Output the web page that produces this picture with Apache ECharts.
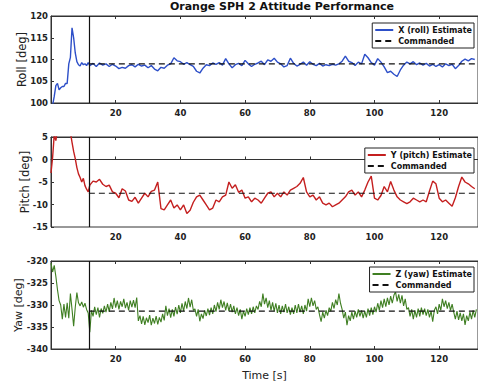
<!DOCTYPE html>
<html>
<head>
<meta charset="utf-8">
<script src="https://cdn.jsdelivr.net/npm/echarts@6/dist/echarts.min.js"></script>
<style>html,body{margin:0;padding:0;background:#fff}#c{width:478px;height:385px}</style>
</head>
<body>
<div id="c"></div>
<script>
// ---- data ----
const chartTitle = 'Orange SPH 2 Attitude Performance';
const xTicks = [20, 40, 60, 80, 100, 120];
const startTime = 11.7;   // commanded maneuver start (vertical line)
const endTime = 132;

// time samples for roll / pitch [s]
const timeCoarse = [0,0.5,1,1.5,2,2.5,3,3.5,4,4.5,5,5.5,6,6.5,7,7.5,8,8.5,9,9.5,10,10.5,11,11.5,
 12,13,14,15,16,17,18,19,20,21,22,23,24,25,26,27,28,29,30,31,32,33,34,35,36,37,38,39,40,
 41,42,43,44,45,46,47,48,49,50,51,52,53,54,55,56,57,58,59,60,61,62,63,64,65,66,67,68,69,70,
 71,72,73,74,75,76,77,78,79,80,81,82,83,84,85,86,87,88,89,90,91,92,93,94,95,96,97,98,99,100,
 101,102,103,104,105,106,107,108,109,110,111,112,113,114,115,116,117,118,119,120,121,122,123,124,125,126,127,128,129,130,131];

const rollDeg = [98,99.5,101.5,104,104.5,103,103.5,103.8,103.8,104.5,104.5,109,110.5,117.3,115,111.5,109.5,108.8,108.5,109.3,108.8,109,108.6,109.3,
 108.6,109.1,108.4,109.2,108.7,109.0,108.4,108.9,108.5,107.9,108.2,108.0,108.6,108.8,108.3,108.9,108.5,108.7,108.1,108.6,107.8,107.4,108.2,108.0,108.7,109.0,110.4,109.7,109.5,
 108.9,109.3,108.8,108.4,107.3,106.9,108.0,108.8,108.6,109.2,108.9,109.3,108.7,110.2,109.0,108.1,108.8,109.1,108.6,109.8,109.0,108.4,108.9,109.2,109.6,108.8,109.9,109.6,110.3,109.4,
 109.0,108.3,108.6,110.3,109.1,108.5,108.9,109.4,108.7,109.5,108.9,108.6,109.1,108.5,108.8,108.6,108.9,108.7,109.0,109.6,110.8,109.6,109.3,108.6,109.4,109.0,111.2,110.4,109.3,108.7,
 110.2,109.4,108.3,107.0,107.3,106.6,106.1,107.6,108.7,109.4,109.0,109.5,108.8,109.2,108.7,109.1,108.5,108.9,108.4,108.8,108.3,109.0,108.6,108.9,107.9,108.6,109.6,110.1,109.7,110.2,110.0];

const pitchDeg = [-3.0,0.5,5.5,4.2,6.5,6.0,7.0,7.5,8.0,8.0,8.0,7.0,6.0,3.8,1.8,0.2,-1.8,-3.2,-4.0,-5.0,-4.2,-5.8,-6.6,-7.2,
 -5.7,-4.8,-5.0,-4.4,-5.5,-6.0,-5.7,-7.2,-7.5,-8.5,-6.5,-7.0,-9.0,-9.3,-8.4,-9.7,-8.6,-7.5,-8.3,-7.1,-6.8,-5.0,-10.9,-11.2,-10.1,-9.0,-10.8,-10.1,-11.2,
 -10.1,-12.0,-11.3,-9.5,-8.3,-7.9,-9.0,-10.1,-11.2,-10.8,-9.0,-9.4,-8.3,-7.9,-5.0,-6.4,-5.6,-7.3,-6.8,-8.6,-8.3,-9.4,-8.6,-9.0,-9.7,-8.6,-7.5,-7.2,-8.3,-7.5,
 -8.3,-7.2,-7.9,-6.8,-6.4,-6.0,-5.3,-4.0,-7.2,-8.3,-7.9,-9.0,-8.3,-9.7,-10.1,-9.7,-10.5,-10.1,-9.7,-9.0,-8.3,-7.2,-6.8,-7.9,-7.2,-8.3,-6.8,-5.0,-3.7,-8.6,
 -9.0,-8.0,-6.0,-7.2,-4.9,-6.8,-8.3,-9.0,-9.4,-9.8,-9.4,-8.6,-9.0,-9.4,-9.0,-9.4,-7.0,-4.8,-5.4,-8.6,-9.4,-9.0,-9.7,-10.4,-8.5,-6.0,-3.9,-5.0,-5.4,-6.0,-6.5];

// time samples for yaw [s]
const timeFine = [0,0.5,1,1.5,2,2.5,3,3.5,4,4.5,5,5.5,6,6.5,7,7.5,8,8.5,9,9.5,10,10.5,11,11.5,12,
 12.5,13,13.5,14,14.5,15,15.5,16,16.5,17,17.5,18,18.5,19,19.5,20,20.5,21,21.5,22,22.5,23,23.5,24,24.5,25,25.5,26,26.5,27,
 27.5,28,28.5,29,29.5,30,30.5,31,31.5,32,32.5,33,33.5,34,34.5,35,
 35.5,36,36.5,37,37.5,38,38.5,39,39.5,40,
 40.5,41,41.5,42,42.5,43,43.5,44,
 44.5,45,45.5,46,46.5,47,47.5,48,48.5,49,49.5,50,
 50.5,51,51.5,52,52.5,53,53.5,54,54.5,55,55.5,56,56.5,57,
 57.5,58,58.5,59,59.5,60,60.5,61,61.5,62,62.5,63,63.5,
 64,64.5,65,65.5,66,66.5,67,67.5,68,
 68.5,69,69.5,70,70.5,71,71.5,72,72.5,73,73.5,74,74.5,75,
 75.5,76,76.5,77,77.5,78,78.5,79,
 79.5,80,80.5,81,81.5,82,
 82.5,83,83.5,84,84.5,85,85.5,86,
 86.5,87,87.5,88,88.5,89,89.5,90,
 90.5,91,91.5,92,92.5,93,93.5,94,94.5,95,95.5,96,96.5,97,97.5,98,98.5,99,99.5,100,
 100.5,101,101.5,102,102.5,103,103.5,104,104.5,105,105.5,106,106.5,107,107.5,108,108.5,109,109.5,110,
 110.5,111,111.5,112,112.5,113,113.5,114,114.5,115,115.5,116,116.5,
 117,117.5,118,118.5,
 119,119.5,120,120.5,121,121.5,122,122.5,123,123.5,124,
 124.5,125,125.5,126,126.5,127,127.5,128,128.5,129,129.5,130,130.5,131,131.5];

const yawDeg = [-320.5,-322.5,-321.0,-323.5,-326.5,-329.0,-330.0,-333.2,-329.8,-332.8,-329.5,-333.0,-327.4,-331.0,-334.8,-330.5,-327.2,-329.5,-330.2,-329.3,-330.5,-329.6,-331.0,-331.8,-336.2,
 -331.2,-332.6,-330.4,-332.2,-330.6,-332.8,-330.8,-331.9,-330.2,-331.6,-329.8,-331.5,-329.4,-330.9,-328.4,-330.6,-329.0,-331.0,-329.2,-330.4,-328.6,-330.7,-329.4,-331.2,-329.0,-330.5,-328.9,-330.6,-328.3,-333.6,
 -332.4,-334.3,-332.6,-334.5,-332.9,-334.0,-332.3,-334.6,-333.0,-334.2,-332.5,-334.4,-332.8,-333.9,-332.0,-333.5,
 -330.2,-332.4,-330.8,-332.9,-331.0,-332.6,-330.5,-332.1,-330.0,-331.8,
 -329.6,-331.4,-329.2,-330.8,-328.4,-330.5,-328.8,-331.2,
 -330.9,-332.6,-331.0,-333.7,-332.0,-333.1,-331.2,-332.5,-330.8,-332.3,-330.6,-332.0,
 -330.0,-331.5,-329.4,-331.0,-328.8,-330.6,-329.2,-331.2,-329.5,-331.4,-329.8,-331.6,-330.2,-332.0,
 -330.6,-332.4,-331.0,-333.2,-331.4,-332.6,-330.8,-332.2,-330.6,-332.0,-330.4,-331.8,-330.2,
 -331.0,-329.2,-330.4,-327.4,-329.8,-328.4,-330.6,-329.0,-331.2,
 -329.4,-331.4,-329.6,-331.8,-330.0,-332.0,-330.2,-331.6,-329.8,-331.8,-330.4,-332.2,-330.6,-332.0,
 -330.0,-331.8,-329.8,-331.6,-330.2,-332.0,-330.0,-331.4,
 -328.6,-330.4,-328.4,-330.2,-329.0,-331.0,
 -330.4,-332.2,-333.8,-331.6,-333.0,-331.2,-332.4,-330.6,
 -331.4,-329.4,-330.8,-328.8,-330.0,-327.4,-329.6,-331.0,
 -333.0,-331.6,-334.6,-332.4,-333.6,-331.6,-333.2,-331.4,-332.8,-331.0,-332.6,-331.2,-333.0,-331.4,-332.8,-330.8,-332.4,-330.6,-332.2,-330.4,
 -331.6,-329.6,-331.2,-329.0,-330.6,-328.6,-330.4,-328.4,-330.0,-328.0,-329.6,-327.8,-327.0,-329.2,-327.6,-329.6,-327.8,-330.2,-328.6,-331.0,
 -330.6,-332.6,-331.0,-333.2,-331.2,-332.8,-330.8,-332.6,-330.6,-332.2,-330.8,-332.4,-331.0,
 -332.8,-331.4,-333.8,-331.2,
 -330.4,-332.0,-329.8,-331.2,-328.6,-330.4,-329.0,-330.8,-329.4,-331.2,-329.8,
 -331.6,-333.2,-331.4,-333.4,-331.8,-333.6,-332.0,-334.5,-332.4,-333.6,-331.6,-333.2,-331.2,-332.8,-331.0];

const rollCmd = 109.0;
const pitchCmd = -7.5;
const yawCmd = -331.4;

const panels = [
  {est: 'X (roll) Estimate', yName: 'Roll [deg]', yMin: 100, yMax: 120, time: timeCoarse, vals: rollDeg, cmd: rollCmd, color: '#2d4fc8', width: 1.4},
  {est: 'Y (pitch) Estimate', yName: 'Pitch [deg]', yMin: -15, yMax: 5, time: timeCoarse, vals: pitchDeg, cmd: pitchCmd, color: '#c41f1f', width: 1.4},
  {est: 'Z (yaw) Estimate', yName: 'Yaw [deg]', yMin: -340, yMax: -320, time: timeFine, vals: yawDeg, cmd: yawCmd, color: '#3f7f22', width: 1.1}
];

// ---- layout / style ----
const FONT = 'DejaVu Sans';
const gridTops = [16, 137, 261];
const gridHeights = [87, 90, 88];
const nameGaps = [23, 20, 27];
const nameSizes = [11.5, 11.5, 11];
const legendTops = [23, 148, 267];

const grid = [], xAxis = [], yAxis = [], series = [], legend = [];
panels.forEach((p, i) => {
  grid.push({left: 51, top: gridTops[i], height: gridHeights[i], right: -2, show: true, borderColor: '#333', borderWidth: 1});
  const base = {
    type: 'value', gridIndex: i, min: 0, max: endTime, interval: 20,
    axisLine: {show: true, lineStyle: {color: '#333', width: 1}},
    axisTick: {show: true, inside: true, length: 3, lineStyle: {color: '#333'}},
    splitLine: {show: false}
  };
  xAxis.push(Object.assign({}, base, {
    position: 'bottom',
    axisLabel: {show: true, showMinLabel: false, showMaxLabel: false, fontSize: 8.5, fontWeight: 'bold', color: '#222', fontFamily: FONT, margin: 5},
    name: i === 2 ? 'Time [s]' : '', nameLocation: 'middle', nameGap: 21,
    nameTextStyle: {fontSize: 11, color: '#222', fontFamily: FONT}
  }));
  xAxis.push(Object.assign({}, base, {position: 'top', axisLabel: {show: false}}));
  yAxis.push({
    type: 'value', gridIndex: i, min: p.yMin, max: p.yMax, interval: 5,
    axisLine: {show: true, lineStyle: {color: '#333'}},
    axisTick: {show: true, inside: true, length: 3, lineStyle: {color: '#333'}},
    splitLine: {show: false},
    axisLabel: {fontSize: 8.5, fontWeight: 'bold', color: '#222', fontFamily: FONT, margin: 3},
    name: p.yName, nameLocation: 'middle', nameGap: nameGaps[i], nameMoveOverlap: false,
    nameTextStyle: {fontSize: nameSizes[i], color: '#222', fontFamily: FONT}
  });
  series.push({
    name: p.est, type: 'line', xAxisIndex: i * 2, yAxisIndex: i,
    data: p.time.map((t, k) => [t, p.vals[k]]),
    symbol: 'none', showSymbol: false, clip: true,
    lineStyle: {color: p.color, width: p.width}, itemStyle: {color: p.color},
    animation: false, z: 2
  });
  series.push({
    name: 'Commanded', type: 'line', xAxisIndex: i * 2, yAxisIndex: i,
    data: [[startTime, p.cmd], [endTime, p.cmd]],
    symbol: 'none', showSymbol: false,
    lineStyle: {color: '#111', width: 1.1, type: [6, 4]}, itemStyle: {color: '#111'},
    animation: false, z: 3,
    markLine: {
      silent: true, symbol: ['none', 'none'], label: {show: false},
      lineStyle: {color: '#111', type: 'solid', width: 1.2},
      data: [{xAxis: startTime}], animation: false
    }
  });
  legend.push({
    data: [p.est, 'Commanded'], orient: 'vertical', selectedMode: false,
    right: 4, top: legendTops[i],
    itemWidth: 18, itemHeight: 8, itemGap: 3, padding: [3, 2, 3, 2],
    itemStyle: {opacity: 0},
    borderColor: '#222', borderWidth: 1, backgroundColor: '#fff', borderRadius: 0,
    textStyle: {fontSize: 8, fontWeight: 'bold', color: '#111', fontFamily: FONT}
  });
});

const chart = echarts.init(document.getElementById('c'), null, {renderer: 'svg'});
chart.setOption({
  animation: false,
  backgroundColor: '#fff',
  title: {text: chartTitle, left: 282, textAlign: 'center', top: 1, padding: 0,
    textStyle: {fontSize: 11, fontWeight: 'bold', color: '#111', fontFamily: FONT}},
  grid, xAxis, yAxis, series, legend
});
</script>
</body>
</html>
